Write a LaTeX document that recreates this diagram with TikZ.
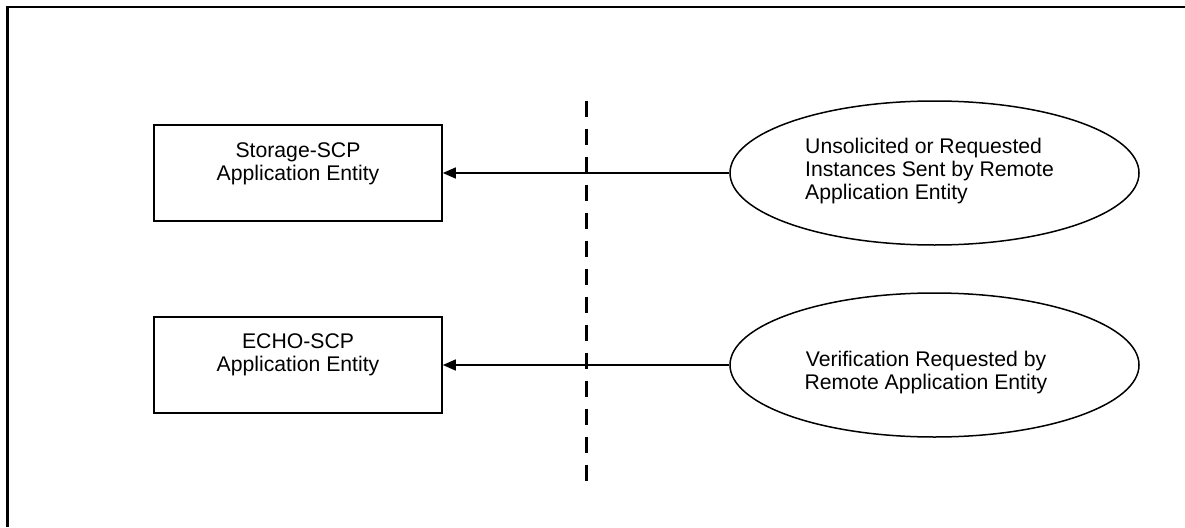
\documentclass[tikz,border=0pt]{standalone}
\usepackage{fontspec}
\setmainfont{Liberation Sans}
\usetikzlibrary{shapes.geometric,arrows.meta}
\begin{document}
\begin{tikzpicture}[x=1pt,y=-1pt,
  entbox/.style={draw,line width=1.6pt,minimum width=288pt,minimum height=96pt,inner sep=0pt},
  remote/.style={draw,ellipse,line width=1.5pt,minimum width=409pt,minimum height=144pt,inner sep=0pt},
  lbl/.style={font=\fontsize{21.2pt}{23pt}\selectfont,anchor=base,inner sep=0pt},
  arr/.style={line width=1.5pt,-{Triangle[length=13pt,width=11pt]}},
  frame/.style={line width=2.6pt},
  divider/.style={line width=3.4pt,dash pattern=on 16pt off 12pt}]
\useasboundingbox (0,0) rectangle (1185,527);
\draw[frame] (7.5,527) -- (7.5,7) -- (1185,7);
% boxes
\node[entbox] (b1) at (298,173) {};
\node[entbox] (b2) at (298,365) {};
\node[lbl,align=center] (t1) at (298,180) {Storage-SCP\\Application Entity};
\node[lbl,align=center] (t2) at (298,371.5) {ECHO-SCP\\Application Entity};
% ellipses
\node[remote] (e1) at (934.5,173) {};
\node[remote] (e2) at (934.5,365) {};
\node[lbl,align=left,anchor=base west] (t3) at (805,199) {Unsolicited or Requested\\Instances Sent by Remote\\Application Entity};
\node[lbl,align=center] (t4) at (926,389.5) {Verification Requested by\\Remote Application Entity};
% divider
\coordinate (dtop) at (586.7,100.7);
\coordinate (dbot) at (586.7,481);
\draw[divider] (dtop) -- (dbot);
% arrows
\draw[arr] (e1.west) -- (b1.east);
\draw[arr] (e2.west) -- (b2.east);
\end{tikzpicture}
\end{document}
